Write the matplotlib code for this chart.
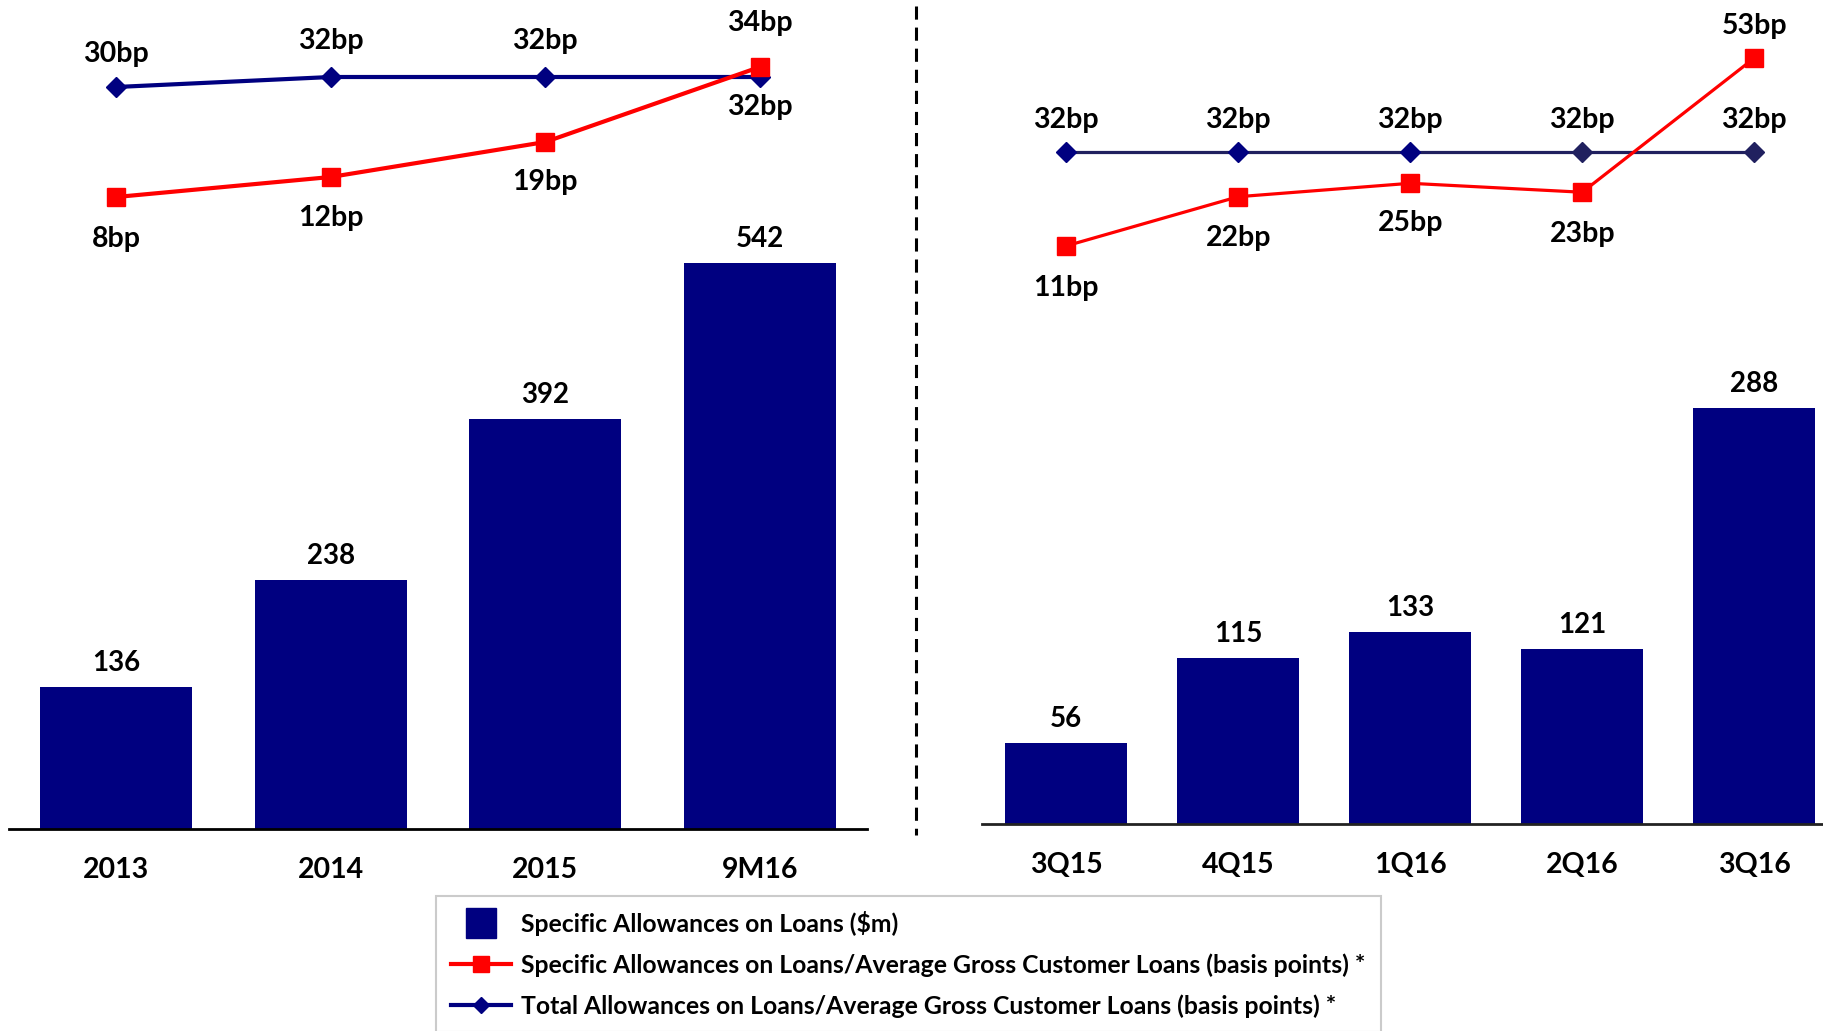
import matplotlib.pyplot as plt
from matplotlib.lines import Line2D

# annual data (left panel)
years = ["2013", "2014", "2015", "9M16"]
years_sa = [136, 238, 392, 542]
years_spec_bp = [8, 12, 19, 34]
years_total_bp = [30, 32, 32, 32]

# quarterly data (right panel)
quarters = ["3Q15", "4Q15", "1Q16", "2Q16", "3Q16"]
quarters_sa = [56, 115, 133, 121, 288]
quarters_spec_bp = [11, 22, 25, 23, 53]
quarters_total_bp = [32, 32, 32, 32, 32]

NAVY = "#000080"
RED = "#FF0000"
DARK = "#20205F"
FONT = ["Lato", "DejaVu Sans"]

plt.rcParams['font.family'] = FONT
plt.rcParams['font.weight'] = 'bold'

W, H = 1823, 1031
fig = plt.figure(figsize=(W / 100, H / 100), dpi=100)


def px_axes(x0, x1, y_bottom):
    return fig.add_axes([x0 / W, 1 - y_bottom / H, (x1 - x0) / W, y_bottom / H])


def bp_label(ax, x, v, off):
    ax.annotate(f"{v}bp", (x, v), xytext=(0, off), textcoords="offset pixels",
                ha="center", va="center", fontsize=20.5, fontweight="bold")


def draw_panel(ax, cats, sa, spec, total, bar_ylim, bp_ylim, lw, blue_line,
               diamond_colors, spec_off, total_off, axis_color):
    x = range(len(cats))
    ax.bar(x, sa, width=0.71, color=NAVY, zorder=2)
    for i, v in enumerate(sa):
        ax.annotate(str(v), (i, v), xytext=(0, 24), textcoords="offset pixels",
                    ha="center", va="center", fontsize=20, fontweight="bold")
    ax.set_ylim(*bar_ylim)
    ax.set_yticks([])
    ax.set_xticks(list(x))
    ax.set_xticklabels(cats, fontsize=20.5, fontweight="bold")
    ax.tick_params(axis="x", length=0, pad=20)
    for s in ["top", "left", "right"]:
        ax.spines[s].set_visible(False)
    ax.spines["bottom"].set_color(axis_color)
    ax.spines["bottom"].set_linewidth(2)

    ln = ax.twinx()
    ln.set_ylim(*bp_ylim)
    ln.axis("off")
    ln.plot(list(x), total, color=blue_line, lw=lw, zorder=3)
    for i, v in enumerate(total):
        ln.plot(i, v, marker="D", ms=10, color=diamond_colors[i], zorder=4)
    ln.plot(list(x), spec, color=RED, lw=lw, marker="s", ms=13.5, zorder=5)
    for i in range(len(cats)):
        bp_label(ln, i, total[i], total_off[i])
        bp_label(ln, i, spec[i], spec_off[i])
    return ln


axl = px_axes(9, 867, 829)
axl.set_xlim(-0.5, 3.5)
draw_panel(axl, years, years_sa, years_spec_bp, years_total_bp,
           (0, 829 / 1.045), (32 - 752 / 5.0, 32 + 77 / 5.0), 3.0, NAVY,
           [NAVY] * 4, [-42, -41, -40, 44], [33, 36, 36, -30], "black")

axr = px_axes(982, 1823, 824)
axr.set_xlim(-0.49, 4.4)
draw_panel(axr, quarters, quarters_sa, quarters_spec_bp, quarters_total_bp,
           (0, 824 / 1.443), (32 - 672 / 4.47, 32 + 152 / 4.47), 2.3, DARK,
           [NAVY, NAVY, NAVY, DARK, DARK], [-42, -41, -40, -42, 32],
           [32] * 5, "#222222")

# dashed divider between the panels
fig.add_artist(Line2D([916 / W, 916 / W], [1 - 6 / H, 1 - 835 / H],
                      transform=fig.transFigure, color="black", lw=2.2,
                      linestyle=(0, (4.3, 2.6))))

handles = [
    Line2D([], [], color=NAVY, marker="s", ms=21, linestyle="none"),
    Line2D([], [], color=RED, lw=3, marker="s", ms=11),
    Line2D([], [], color=NAVY, lw=3, marker="D", ms=8),
]
labels = [
    "Specific Allowances on Loans ($m)",
    "Specific Allowances on Loans/Average Gross Customer Loans (basis points) *",
    "Total Allowances on Loans/Average Gross Customer Loans (basis points) *",
]
leg = fig.legend(handles, labels, loc="upper left",
                 bbox_to_anchor=(436 / W, 1 - 896 / H), borderaxespad=0,
                 prop={"family": FONT, "weight": "bold", "size": 17.8},
                 handlelength=2.45, handletextpad=0.4, labelspacing=0.7,
                 borderpad=0.6, fancybox=False, frameon=True)
leg.get_frame().set_edgecolor("#BFBFBF")
leg.get_frame().set_linewidth(1.5)

fig.savefig("out.png", dpi=100)
